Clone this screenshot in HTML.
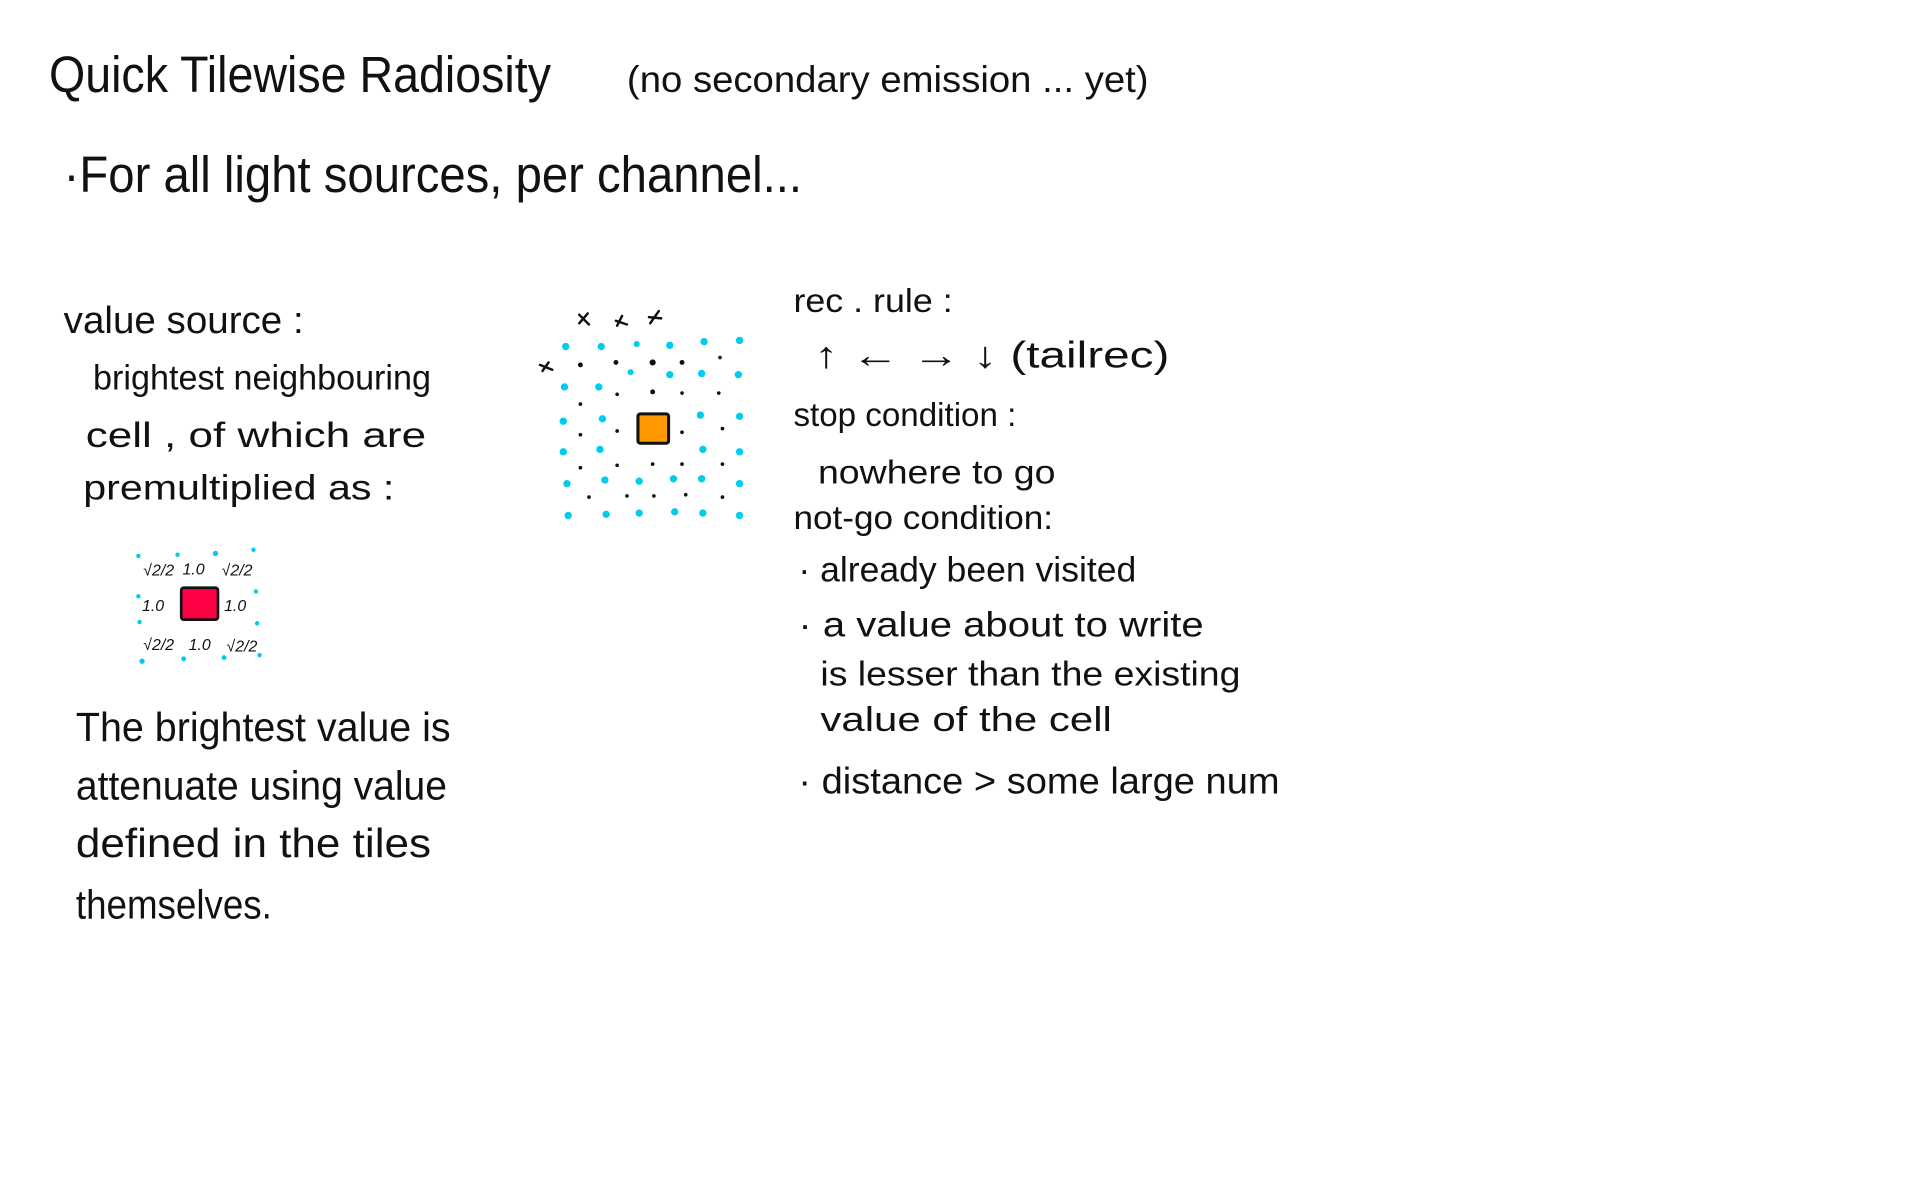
<!DOCTYPE html>
<html><head><meta charset="utf-8"><style>
html,body{margin:0;padding:0;background:#fff;width:1920px;height:1200px;overflow:hidden}
svg text{font-family:"Liberation Sans","DejaVu Sans",sans-serif;fill:#111}
</style></head><body>
<svg width="1920" height="1200" viewBox="0 0 1568 980" xmlns="http://www.w3.org/2000/svg">
<g>
<text x="40" y="75" font-size="42" textLength="410" lengthAdjust="spacingAndGlyphs">Quick Tilewise Radiosity</text>
<text x="512" y="75" font-size="30" textLength="426" lengthAdjust="spacingAndGlyphs">(no secondary emission ... yet)</text>
<text x="52" y="157" font-size="42" textLength="603" lengthAdjust="spacingAndGlyphs">·For all light sources, per channel...</text>

<text x="52" y="272" font-size="31" textLength="196" lengthAdjust="spacingAndGlyphs">value source :</text>
<text x="76" y="318" font-size="29" textLength="276" lengthAdjust="spacingAndGlyphs">brightest neighbouring</text>
<text x="70" y="365" font-size="29" textLength="278" lengthAdjust="spacingAndGlyphs">cell , of which are</text>
<text x="68" y="408" font-size="29" textLength="254" lengthAdjust="spacingAndGlyphs">premultiplied as :</text>

<text x="62" y="605" font-size="33" textLength="306" lengthAdjust="spacingAndGlyphs">The brightest value is</text>
<text x="62" y="653" font-size="33" textLength="303" lengthAdjust="spacingAndGlyphs">attenuate using value</text>
<text x="62" y="700" font-size="33" textLength="290" lengthAdjust="spacingAndGlyphs">defined in the tiles</text>
<text x="62" y="750" font-size="33" textLength="160" lengthAdjust="spacingAndGlyphs">themselves.</text>

<text x="648" y="255" font-size="27" textLength="130" lengthAdjust="spacingAndGlyphs">rec . rule :</text>
<text x="665" y="300" font-size="30" textLength="290" lengthAdjust="spacingAndGlyphs">↑ ← → ↓  (tailrec)</text>
<text x="648" y="348" font-size="27" textLength="182" lengthAdjust="spacingAndGlyphs">stop condition :</text>
<text x="668" y="395" font-size="27" textLength="194" lengthAdjust="spacingAndGlyphs">nowhere to go</text>
<text x="648" y="432" font-size="27" textLength="212" lengthAdjust="spacingAndGlyphs">not-go condition:</text>
<text x="652" y="475" font-size="29" textLength="276" lengthAdjust="spacingAndGlyphs">· already been visited</text>
<text x="652" y="520" font-size="29" textLength="331" lengthAdjust="spacingAndGlyphs">· a value about to write</text>
<text x="670" y="560" font-size="28" textLength="343" lengthAdjust="spacingAndGlyphs">is lesser than the existing</text>
<text x="670" y="597" font-size="28" textLength="238" lengthAdjust="spacingAndGlyphs">value of the cell</text>
<text x="652" y="648" font-size="30" textLength="393" lengthAdjust="spacingAndGlyphs">· distance &gt; some large num</text>
</g>

<g fill="#00ccee">
<circle cx="462" cy="283" r="3"/><circle cx="491" cy="283" r="3"/><circle cx="520" cy="281" r="2.5"/><circle cx="547" cy="282" r="3"/><circle cx="575" cy="279" r="3"/><circle cx="604" cy="278" r="3"/>
<circle cx="461" cy="316" r="3"/><circle cx="489" cy="316" r="3"/><circle cx="515" cy="304" r="2.5"/><circle cx="547" cy="306" r="3"/><circle cx="573" cy="305" r="3"/><circle cx="603" cy="306" r="3"/>
<circle cx="460" cy="344" r="3"/><circle cx="492" cy="342" r="3"/><circle cx="572" cy="339" r="3"/><circle cx="604" cy="340" r="3"/>
<circle cx="460" cy="369" r="3"/><circle cx="490" cy="367" r="3"/><circle cx="574" cy="367" r="3"/><circle cx="604" cy="369" r="3"/>
<circle cx="463" cy="395" r="3"/><circle cx="494" cy="392" r="3"/><circle cx="522" cy="393" r="3"/><circle cx="550" cy="391" r="3"/><circle cx="573" cy="391" r="3"/><circle cx="604" cy="395" r="3"/>
<circle cx="464" cy="421" r="3"/><circle cx="495" cy="420" r="3"/><circle cx="522" cy="419" r="3"/><circle cx="551" cy="418" r="3"/><circle cx="574" cy="419" r="3"/><circle cx="604" cy="421" r="3"/>
</g>
<g fill="#111">
<circle cx="474" cy="298" r="2"/><circle cx="503" cy="296" r="2"/><circle cx="533" cy="296" r="2.5"/><circle cx="557" cy="296" r="2"/><circle cx="588" cy="292" r="1.5"/>
<circle cx="504" cy="322" r="1.5"/><circle cx="533" cy="320" r="2"/><circle cx="557" cy="321" r="1.5"/><circle cx="587" cy="321" r="1.5"/>
<circle cx="474" cy="330" r="1.5"/><circle cx="474" cy="355" r="1.5"/><circle cx="504" cy="352" r="1.5"/><circle cx="557" cy="353" r="1.5"/><circle cx="590" cy="350" r="1.5"/>
<circle cx="474" cy="382" r="1.5"/><circle cx="504" cy="380" r="1.5"/><circle cx="533" cy="379" r="1.5"/><circle cx="557" cy="379" r="1.5"/><circle cx="590" cy="379" r="1.5"/>
<circle cx="481" cy="406" r="1.5"/><circle cx="512" cy="405" r="1.5"/><circle cx="534" cy="405" r="1.5"/><circle cx="560" cy="404" r="1.5"/><circle cx="590" cy="406" r="1.5"/>
</g>
<g stroke="#111" stroke-width="2" fill="none" stroke-linecap="round">
<path d="M473 257l8 8M480 256l-7 8"/><path d="M503 262l9 3M508 258l-4 8"/><path d="M530 259l10 1M538 254l-7 10"/><path d="M441 298l10 4M448 296l-5 7"/>
</g>
<rect x="521" y="338" width="25" height="24" fill="#ff9900" stroke="#111" stroke-width="2.5" rx="2"/>

<g fill="#00ccee">
<circle cx="113" cy="454" r="1.8"/><circle cx="145" cy="453" r="1.8"/><circle cx="176" cy="452" r="2.2"/><circle cx="207" cy="449" r="1.8"/>
<circle cx="113" cy="487" r="1.8"/><circle cx="209" cy="483" r="1.8"/>
<circle cx="114" cy="508" r="1.8"/><circle cx="210" cy="509" r="1.8"/>
<circle cx="116" cy="540" r="2.2"/><circle cx="150" cy="538" r="2"/><circle cx="183" cy="537" r="2"/><circle cx="212" cy="535" r="1.8"/>
</g>
<rect x="148" y="480" width="30" height="26" fill="#ff0044" stroke="#111" stroke-width="2.2" rx="2"/>
<g font-size="13" font-style="italic">
<text x="117" y="470">√2/2</text><text x="149" y="469">1.0</text><text x="181" y="470">√2/2</text>
<text x="116" y="499">1.0</text><text x="183" y="499">1.0</text>
<text x="117" y="531">√2/2</text><text x="154" y="531">1.0</text><text x="185" y="532">√2/2</text>
</g>
</svg>
</body></html>
